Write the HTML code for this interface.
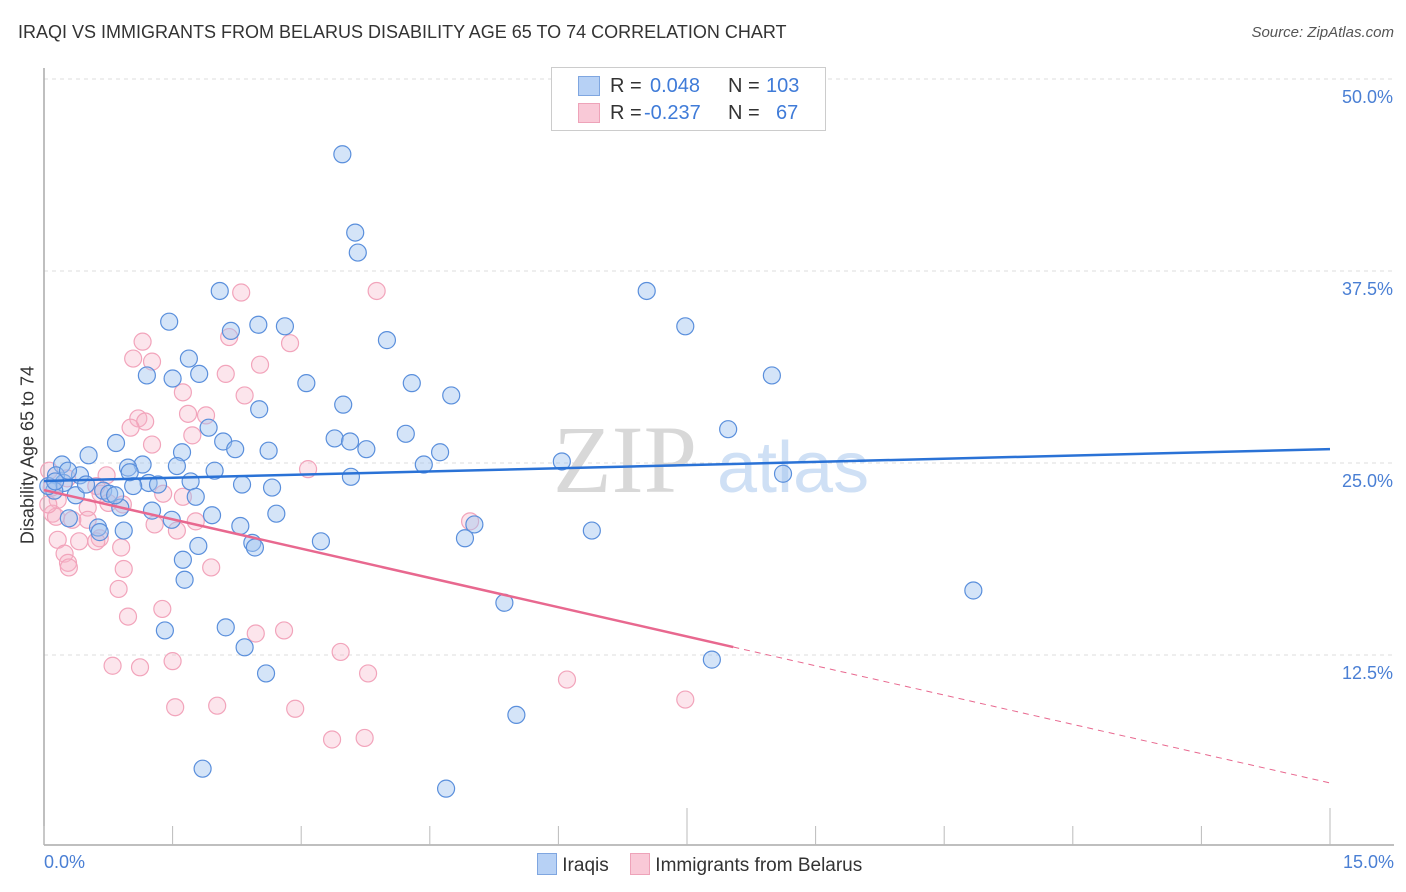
<!DOCTYPE html>
<html><head><meta charset="utf-8"><style>
body{margin:0;background:#fff;font-family:"Liberation Sans",sans-serif;}
#wrap{position:relative;width:1406px;height:892px;overflow:hidden;}
.t{position:absolute;white-space:nowrap;}
.lg span{white-space:nowrap;}
</style></head><body>
<div id="wrap">
<div class="t" style="left:18px;top:22px;font-size:18px;color:#333;">IRAQI VS IMMIGRANTS FROM BELARUS DISABILITY AGE 65 TO 74 CORRELATION CHART</div>
<div class="t" style="right:12px;top:24px;font-size:15px;color:#555;font-style:italic;">Source: ZipAtlas.com</div>
<svg id="svg" width="1406" height="892" style="position:absolute;left:0;top:0"></svg>
</div>
<script>
const xTickVals=[0,1.5,3,4.5,6,7.5,9,10.5,12,13.5,15];
const yTickVals=[12.5,25,37.5,50];
const yTickLabels=["12.5%","25.0%","37.5%","50.0%"];
const iraqX=[3.48,3.63,3.66,2.05,7.03,1.46,2.50,2.81,2.18,4.00,7.48,1.69,1.20,1.50,1.81,3.06,4.29,8.49,4.75,3.49,2.51,1.92,7.98,0.84,2.09,3.39,3.57,4.22,1.61,2.23,2.62,3.76,4.62,0.52,0.21,1.15,0.98,1.55,1.99,4.43,6.04,8.62,0.14,0.42,3.58,1.71,1.22,0.23,2.31,2.66,1.04,0.69,1.33,0.37,0.76,1.77,0.12,0.05,0.89,1.26,1.96,2.71,1.49,0.29,5.02,2.29,0.63,0.93,0.65,6.39,3.23,4.91,2.43,1.80,2.46,1.62,1.64,10.84,5.37,1.41,2.12,2.34,7.79,2.59,5.51,1.85,4.69,0.13,0.28,0.49,0.83,1.00];
const iraqY=[45.1,40.0,38.7,36.2,36.2,34.2,34.0,33.9,33.6,33.0,33.9,31.8,30.7,30.5,30.8,30.2,30.2,30.7,29.4,28.8,28.5,27.3,27.2,26.3,26.4,26.6,26.4,26.9,25.7,25.9,25.8,25.9,25.7,25.5,24.9,24.9,24.7,24.8,24.5,24.9,25.1,24.3,24.2,24.2,24.1,23.8,23.7,23.7,23.6,23.4,23.5,23.2,23.6,22.9,23.0,22.8,23.2,23.5,22.1,21.9,21.6,21.7,21.3,21.4,21.0,20.9,20.8,20.6,20.5,20.6,19.9,20.1,19.8,19.6,19.5,18.7,17.4,16.7,15.9,14.1,14.3,13.0,12.2,11.3,8.6,5.1,3.8,23.8,24.5,23.6,22.9,24.4];
const belX=[2.30,3.88,2.16,2.87,1.15,1.04,1.26,2.52,2.12,1.62,2.34,1.10,1.18,1.68,1.89,1.01,1.73,1.26,3.08,0.06,0.27,0.73,1.39,1.62,0.66,0.16,0.10,0.51,0.14,1.77,1.29,1.55,0.51,0.92,0.16,0.65,0.41,0.61,0.90,0.24,0.28,0.29,0.93,1.95,0.87,0.98,1.38,2.47,2.80,3.46,0.80,1.12,1.50,3.78,6.10,1.53,2.02,2.93,7.48,3.36,3.74,4.97,0.05,0.09,0.75,0.61,0.33];
const belY=[36.1,36.2,33.2,32.8,32.9,31.8,31.6,31.4,30.8,29.6,29.4,27.9,27.7,28.2,28.1,27.3,26.8,26.2,24.6,24.5,24.0,24.2,23.0,22.8,23.0,22.6,21.7,22.1,21.5,21.2,21.0,20.6,21.3,22.3,20.0,20.1,19.9,19.9,19.5,19.1,18.5,18.2,18.1,18.2,16.8,15.0,15.5,13.9,14.1,12.7,11.8,11.7,12.1,11.3,10.9,9.1,9.2,9.0,9.6,7.0,7.1,21.2,22.3,23.4,22.4,23.5,21.3];
const iraqTrend=[23.83,25.9];
const belTrend=[23.24,4.17];
const belSolidEnd=8.04;

const X=v=>44+v/15*1286, Y=v=>847-v/12.5*192;
const svg=document.getElementById('svg');const NS='http://www.w3.org/2000/svg';
function mk(tag,attrs,parent){const e=document.createElementNS(NS,tag);for(const k in attrs)e.setAttribute(k,attrs[k]);(parent||svg).appendChild(e);return e;}
yTickVals.forEach((v,i)=>{
 const g=mk('line',{x1:44,x2:1394,y1:Y(v),y2:Y(v),stroke:'#dcdcdc','stroke-dasharray':'4,4'});
 
 
 const t=mk('text',{x:1393,y:Y(v)+24,'text-anchor':'end','font-size':18,fill:'#4a7fd4','font-family':'Liberation Sans'});
 t.textContent=yTickLabels[i];
 
 
});
const wm=mk('text',{x:553,y:492,'font-size':96,fill:'#d8d8d8','font-family':'Liberation Serif'});wm.textContent='ZIP';


const wm2=mk('text',{x:717,y:492,'font-size':72,fill:'#cfe0f5','font-family':'Liberation Sans'});wm2.textContent='atlas';


const ax=mk('line',{x1:44,x2:1394,y1:845,y2:845,stroke:'#aaa','stroke-width':1.5});


const ay=mk('line',{x1:44,x2:44,y1:68,y2:845,stroke:'#aaa','stroke-width':1.5});


xTickVals.forEach((v,i)=>{
 const major=(i===5||i===10);
 const tk=mk('line',{x1:X(v),x2:X(v),y1:major?808:826,y2:845,stroke:'#bbb'});
 
 
});
function dots(xs,ys,fill,stroke,name){xs.forEach((x,i)=>{
 const c=mk('circle',{cx:X(x),cy:Y(ys[i]),r:8.5,fill:fill,stroke:stroke,'stroke-width':1.2});
 
 
});}
dots(belX,belY,'rgba(246,180,200,0.35)','#f2a4bb','point-belarus');
dots(iraqX,iraqY,'rgba(160,196,240,0.45)','#5a8fdc','point-iraqis');
const tb=mk('line',{x1:X(0),y1:Y(iraqTrend[0]),x2:X(15),y2:Y(iraqTrend[1]),stroke:'#2a72d6','stroke-width':2.5});


const bAt=x=>belTrend[0]+(belTrend[1]-belTrend[0])*x/15;
const tp=mk('line',{x1:X(0),y1:Y(bAt(0)),x2:X(belSolidEnd),y2:Y(bAt(belSolidEnd)),stroke:'#e8688f','stroke-width':2.5});


const tpd=mk('line',{x1:X(belSolidEnd),y1:Y(bAt(belSolidEnd)),x2:X(15),y2:Y(bAt(15)),stroke:'#e8688f','stroke-width':1,'stroke-dasharray':'6,5'});


</script>
<div class="t" style="left:28px;top:455px;font-size:18px;color:#333;transform:translate(-50%,-50%) rotate(-90deg);">Disability Age 65 to 74</div>
<div class="t" style="left:44px;top:852px;font-size:18px;color:#4a7fd4;">0.0%</div>
<div class="t" style="right:12px;top:852px;font-size:18px;color:#4a7fd4;">15.0%</div>
<div class="lg" style="position:absolute;left:551px;top:67px;width:273px;height:62px;border:1px solid #ccc;background:#fff;font-size:20px;">
 <div style="position:absolute;left:26px;top:7px;width:240px;height:26px;">
  <span style="position:absolute;left:0;top:1px;width:20px;height:18px;background:#b7d1f5;border:1px solid #7fa6e0;"></span>
  <span style="position:absolute;left:32px;top:0;color:#333;">R =</span>
  <span style="position:absolute;left:72px;top:0;color:#3f7bd8;">0.048</span>
  <span style="position:absolute;left:150px;top:0;color:#333;">N =</span>
  <span style="position:absolute;left:188px;top:0;color:#3f7bd8;">103</span>
 </div>
 <div style="position:absolute;left:26px;top:34px;width:240px;height:26px;">
  <span style="position:absolute;left:0;top:1px;width:20px;height:18px;background:#f9c9d7;border:1px solid #eea3b9;"></span>
  <span style="position:absolute;left:32px;top:0;color:#333;">R =</span>
  <span style="position:absolute;left:66px;top:0;color:#3f7bd8;">-0.237</span>
  <span style="position:absolute;left:150px;top:0;color:#333;">N =</span>
  <span style="position:absolute;left:198px;top:0;color:#3f7bd8;">67</span>
 </div>
</div>
<div style="position:absolute;left:537px;top:853px;font-size:19px;color:#333;white-space:nowrap;">
 <span><span style="display:inline-block;width:18px;height:20px;background:#b7d1f5;border:1px solid #7fa6e0;vertical-align:-4px;"></span> Iraqis</span>
 <span style="margin-left:16px;"><span style="display:inline-block;width:18px;height:20px;background:#f9c9d7;border:1px solid #eea3b9;vertical-align:-4px;"></span> Immigrants from Belarus</span>
</div>
</body></html>
